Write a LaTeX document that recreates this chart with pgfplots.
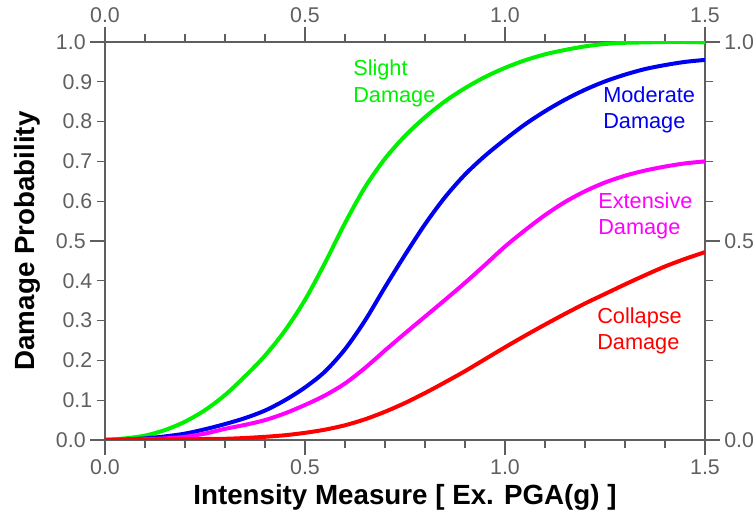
\documentclass[border=0pt]{standalone}
\usepackage{pgfplots}
\pgfplotsset{compat=1.18}
\usepackage{pgfplotstable}
\usepackage{fontspec}
\setmainfont{Liberation Sans}
\definecolor{tickgray}{RGB}{95,95,95}
\definecolor{cgreen}{RGB}{0,240,0}
\definecolor{cblue}{RGB}{0,0,240}
\definecolor{cmag}{RGB}{255,0,255}
\definecolor{cred}{RGB}{255,0,0}

\pgfplotstableread{
x     slight moderate extensive collapse
0.00  0.000  0.000  0.000  0.0000
0.05  0.004  0.001  0.001  0.0005
0.10  0.011  0.004  0.002  0.0010
0.15  0.025  0.009  0.004  0.0015
0.20  0.046  0.016  0.008  0.0020
0.25  0.075  0.027  0.016  0.0025
0.30  0.113  0.040  0.028  0.0030
0.35  0.160  0.055  0.038  0.0050
0.40  0.212  0.074  0.050  0.0080
0.45  0.275  0.100  0.067  0.0120
0.50  0.352  0.132  0.088  0.0180
0.55  0.445  0.172  0.112  0.0260
0.60  0.545  0.228  0.142  0.0370
0.65  0.635  0.300  0.181  0.0520
0.70  0.707  0.384  0.225  0.0710
0.75  0.764  0.465  0.268  0.0930
0.80  0.811  0.542  0.310  0.1180
0.85  0.851  0.610  0.352  0.1450
0.90  0.884  0.667  0.395  0.1730
0.95  0.912  0.714  0.440  0.2030
1.00  0.935  0.755  0.486  0.2330
1.05  0.954  0.793  0.527  0.2620
1.10  0.969  0.826  0.565  0.2900
1.15  0.980  0.855  0.598  0.3170
1.20  0.989  0.880  0.625  0.3430
1.25  0.995  0.901  0.647  0.3670
1.30  0.998  0.918  0.664  0.3910
1.35  0.999  0.932  0.677  0.4140
1.40  1.000  0.942  0.687  0.4360
1.45  1.000  0.950  0.695  0.4550
1.50  0.999  0.955  0.700  0.4720
}\data

\pgfplotsset{
  common/.style={
    scale only axis, width=450pt, height=298.5pt,
    at={(0,0)}, anchor=south west,
    xmin=0, xmax=1.5, ymin=0, ymax=1,
    axis line style={tickgray, line width=1.1pt},
    tick style={tickgray, line width=1pt},
    tick align=outside,
    major tick length=11pt,
    minor tick length=6pt,
    ticklabel style={font=\fontsize{16}{16}\selectfont, text=tickgray},
    /pgf/number format/fixed,
    /pgf/number format/fixed zerofill,
    /pgf/number format/precision=1,
    /pgf/number format/assume math mode=true,
    xtick={0,0.5,1,1.5},
    minor xtick={0.1,0.2,0.3,0.4,0.6,0.7,0.8,0.9,1.1,1.2,1.3,1.4},
  }
}

\begin{document}
\begin{tikzpicture}
\path[use as bounding box] (-78.75pt,-55.5pt) rectangle (486.75pt,330pt);
% top / right axis
\begin{axis}[common,
  xtick pos=right, xticklabel pos=right,
  ytick pos=right, yticklabel pos=right,
  ytick={0,0.5,1},
  minor ytick={0.1,0.2,0.3,0.4,0.6,0.7,0.8,0.9},
]
\end{axis}
% main axis
\begin{axis}[common,
  xtick pos=left, xticklabel pos=left,
  ytick pos=left, yticklabel pos=left,
  ytick={0,0.5,1},
  extra y ticks={0.1,0.2,0.3,0.4,0.6,0.7,0.8,0.9},
  extra y tick style={major tick length=6pt},
  xlabel={Intensity Measure [ Ex. PGA(g) ]},
  ylabel={Damage Probability},
  every axis x label/.style={at={(rel axis cs:0.5,0)}, anchor=base, yshift=-48.5pt,
     font=\fontsize{20.8}{22}\selectfont\bfseries},
  every axis y label/.style={at={(rel axis cs:0,0.5)}, rotate=90, anchor=base, yshift=53pt,
     font=\fontsize{20.8}{22}\selectfont\bfseries},
]
\addplot[cgreen, line width=3pt, smooth] table[x=x, y=slight] {\data};
\addplot[cblue, line width=3pt, smooth] table[x=x, y=moderate] {\data};
\addplot[cmag, line width=3pt, smooth] table[x=x, y=extensive] {\data};
\addplot[cred, line width=3pt, smooth] table[x=x, y=collapse] {\data};
\node[anchor=north west, align=left, inner sep=0pt, text=cgreen, font=\fontsize{16.3}{20}\selectfont] at (axis cs:0.62,0.955) {Slight\\Damage};
\node[anchor=north west, align=left, inner sep=0pt, text=cblue, font=\fontsize{16.3}{20}\selectfont] at (axis cs:1.245,0.889) {Moderate\\Damage};
\node[anchor=north west, align=left, inner sep=0pt, text=cmag, font=\fontsize{16.3}{20}\selectfont] at (axis cs:1.2325,0.623) {Extensive\\Damage};
\node[anchor=north west, align=left, inner sep=0pt, text=cred, font=\fontsize{16.3}{20}\selectfont] at (axis cs:1.23,0.334) {Collapse\\Damage};
\end{axis}
\end{tikzpicture}
\end{document}
